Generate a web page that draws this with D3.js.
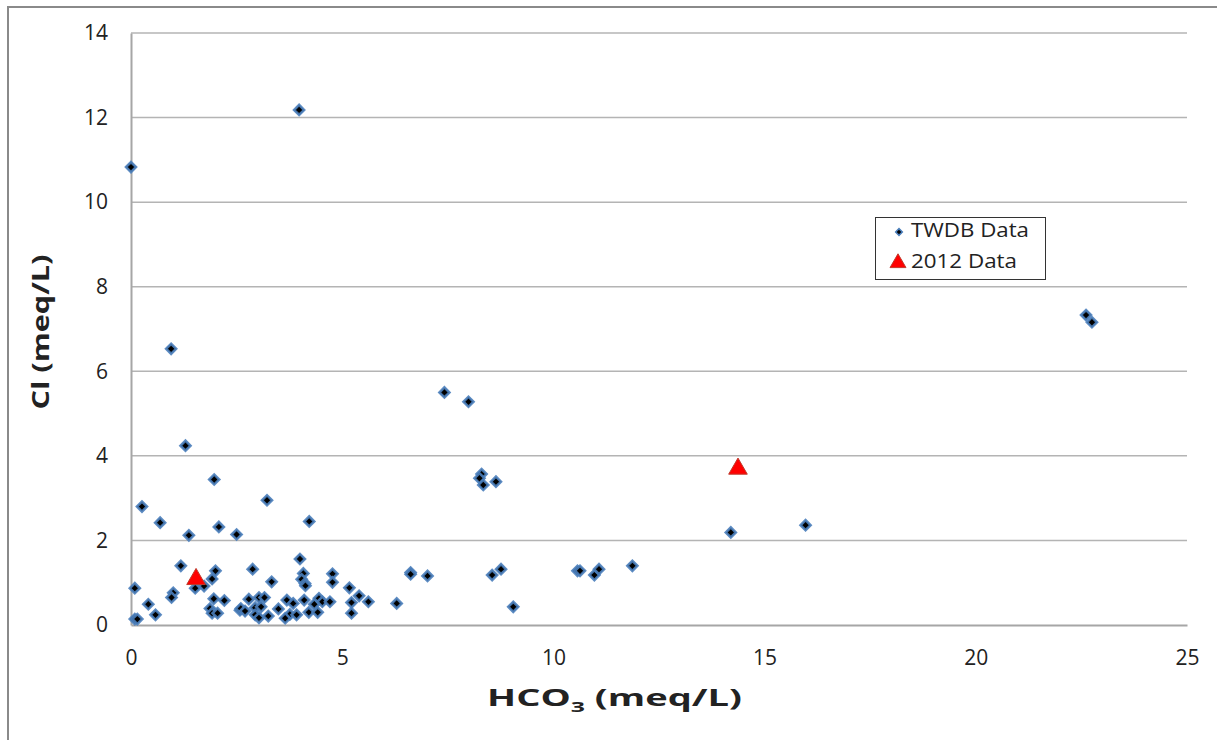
<!DOCTYPE html>
<html>
<head>
<meta charset="utf-8">
<script src="https://cdn.jsdelivr.net/npm/d3@7"></script>
<style>
  html, body { margin: 0; padding: 0; background: #fff; }
  svg { display: block; font-family: "Open Sans", Lato, sans-serif; }
</style>
</head>
<body>
<svg id="chart" width="1217" height="740"></svg>
<script>
// TWDB samples: bicarbonate vs chloride (meq/L)
const twdbHCO3 = [
  0.00, 3.98, 0.95, 22.61, 22.75, 7.42, 7.99, 1.29, 1.97, 8.30,
  8.25, 8.34, 8.64, 3.22, 0.26, 0.69, 4.22, 2.08, 1.37, 2.50,
  14.20, 15.97, 4.00, 1.18, 11.87, 2.88, 2.00, 10.57, 10.63, 10.97,
  11.08, 6.62, 6.62, 7.02, 8.55, 8.76, 4.08, 4.77, 4.77, 4.04,
  4.12, 3.33, 1.92, 0.09, 1.00, 0.96, 1.52, 1.73, 1.96, 2.21,
  0.41, 1.87, 1.92, 2.05, 0.58, 0.09, 0.15, 2.58, 2.79, 3.03,
  3.16, 2.60, 2.70, 2.94, 3.08, 2.94, 3.03, 3.25, 3.49, 3.69,
  3.84, 3.76, 3.65, 3.92, 4.10, 4.21, 4.34, 4.45, 4.42, 4.53,
  4.71, 5.17, 5.40, 5.22, 5.62, 5.22, 6.29, 9.05, 4.13
];
const twdbCl = [
  10.83, 12.18, 6.53, 7.33, 7.16, 5.50, 5.28, 4.24, 3.44, 3.57,
  3.47, 3.31, 3.39, 2.95, 2.80, 2.42, 2.45, 2.32, 2.12, 2.14,
  2.19, 2.36, 1.56, 1.40, 1.40, 1.32, 1.28, 1.28, 1.28, 1.18,
  1.32, 1.24, 1.20, 1.16, 1.18, 1.32, 1.22, 1.21, 1.01, 1.08,
  0.98, 1.02, 1.09, 0.87, 0.76, 0.65, 0.87, 0.92, 0.62, 0.58,
  0.49, 0.39, 0.28, 0.28, 0.24, 0.14, 0.14, 0.35, 0.61, 0.65,
  0.65, 0.39, 0.33, 0.41, 0.43, 0.24, 0.17, 0.21, 0.38, 0.59,
  0.51, 0.25, 0.16, 0.24, 0.59, 0.30, 0.49, 0.63, 0.30, 0.55,
  0.55, 0.88, 0.69, 0.53, 0.55, 0.28, 0.51, 0.43, 0.93
];

// 2012 samples
const s2012HCO3 = [1.54, 14.37];
const s2012Cl = [1.06, 3.67];

// Axis ticks
const xTicks = [0, 5, 10, 15, 20, 25];
const yTicks = [0, 2, 4, 6, 8, 10, 12, 14];

const seriesNames = ["TWDB Data", "2012 Data"];

const svg = d3.select("#chart");
const margin = { left: 131, top: 33, right: 1217 - 1187, bottom: 740 - 625 };
const W = 1217, H = 740;

const x = d3.scaleLinear().domain([0, 25]).range([margin.left, W - margin.right]);
const y = d3.scaleLinear().domain([0, 14]).range([H - margin.bottom, margin.top]);

// Outer chart border
svg.append("rect")
  .attr("x", 8).attr("y", 7)
  .attr("width", 1230).attr("height", 760)
  .attr("fill", "none").attr("stroke", "#8a8a8a").attr("stroke-width", 2);

// Horizontal gridlines
svg.append("g")
  .selectAll("line")
  .data(yTicks.filter(d => d > 0))
  .join("line")
  .attr("x1", x(0)).attr("x2", x(25))
  .attr("y1", d => y(d)).attr("y2", d => y(d))
  .attr("stroke", "#b4b4b4").attr("stroke-width", 1.5);

// Y axis
const yAxis = svg.append("g")
  .attr("transform", `translate(${x(0)},0)`)
  .call(d3.axisLeft(y).tickValues(yTicks).tickSize(0).tickPadding(23).tickFormat(d3.format("d")));
yAxis.select(".domain").attr("stroke", "#a6a6a6").attr("stroke-width", 2);
yAxis.selectAll("text").attr("font-size", 21).attr("fill", "#222")
  .attr("font-family", "'Open Sans', sans-serif");

// X axis
const xAxis = svg.append("g")
  .attr("transform", `translate(0,${y(0)})`)
  .call(d3.axisBottom(x).tickValues(xTicks).tickSize(0).tickPadding(25).tickFormat(d3.format("d")));
xAxis.select(".domain").attr("stroke", "#a6a6a6").attr("stroke-width", 2);
xAxis.selectAll("text").attr("font-size", 21).attr("fill", "#222")
  .attr("font-family", "'Open Sans', sans-serif");

// Axis titles
const xTitle = svg.append("text")
  .attr("x", 487).attr("y", 706)
  .attr("textLength", 255).attr("lengthAdjust", "spacingAndGlyphs")
  .attr("font-size", 23).attr("font-weight", "bold").attr("fill", "#222");
xTitle.append("tspan").text("HCO");
xTitle.append("tspan").attr("font-size", 15).attr("dy", 6).text("3");
xTitle.append("tspan").attr("dy", -6).text(" (meq/L)");

svg.append("text")
  .attr("transform", "translate(49,332) rotate(-90)")
  .attr("text-anchor", "middle")
  .attr("textLength", 155).attr("lengthAdjust", "spacingAndGlyphs")
  .attr("font-size", 23).attr("font-weight", "bold").attr("fill", "#222")
  .text("Cl (meq/L)");

// Marker symbols
const diamond = d3.symbol().type(d3.symbolSquare).size(50);
const triangle = d3.symbol().type(d3.symbolTriangle).size(150);

const twdb = twdbHCO3.map((v, i) => ({ x: v, y: twdbCl[i] }));
const s2012 = s2012HCO3.map((v, i) => ({ x: v, y: s2012Cl[i] }));

svg.append("g")
  .selectAll("path")
  .data(twdb)
  .join("path")
  .attr("d", diamond)
  .attr("transform", d => `translate(${x(d.x)},${y(d.y)}) rotate(45)`)
  .attr("fill", "#000")
  .attr("stroke", "#4a7ebb")
  .attr("stroke-width", 2.6)
  .attr("stroke-opacity", 0.9);

svg.append("g")
  .selectAll("path")
  .data(s2012)
  .join("path")
  .attr("d", triangle)
  .attr("transform", d => `translate(${x(d.x)},${y(d.y) - 1})`)
  .attr("fill", "#ff0000")
  .attr("stroke", "#c0392b")
  .attr("stroke-width", 1);

// Legend
const legend = svg.append("g");
legend.append("rect")
  .attr("x", 875.5).attr("y", 217.5).attr("width", 170).attr("height", 62)
  .attr("fill", "#fff").attr("stroke", "#333").attr("stroke-width", 1);

legend.append("path")
  .attr("d", d3.symbol().type(d3.symbolSquare).size(22))
  .attr("transform", "translate(899,232) rotate(45)")
  .attr("fill", "#000").attr("stroke", "#4a7ebb").attr("stroke-width", 1.5);
legend.append("path")
  .attr("d", d3.symbol().type(d3.symbolTriangle).size(110))
  .attr("transform", "translate(898,263)")
  .attr("fill", "#ff0000").attr("stroke", "#c0392b").attr("stroke-width", 1);

legend.selectAll("text.lbl")
  .data(seriesNames)
  .join("text")
  .attr("class", "lbl")
  .attr("x", 911)
  .attr("y", (d, i) => 232 + i * 31)
  .attr("dominant-baseline", "middle")
  .attr("textLength", (d, i) => i === 0 ? 118 : 106)
  .attr("lengthAdjust", "spacingAndGlyphs")
  .attr("font-size", 20).attr("fill", "#222")
  .text(d => d);
</script>
</body>
</html>
